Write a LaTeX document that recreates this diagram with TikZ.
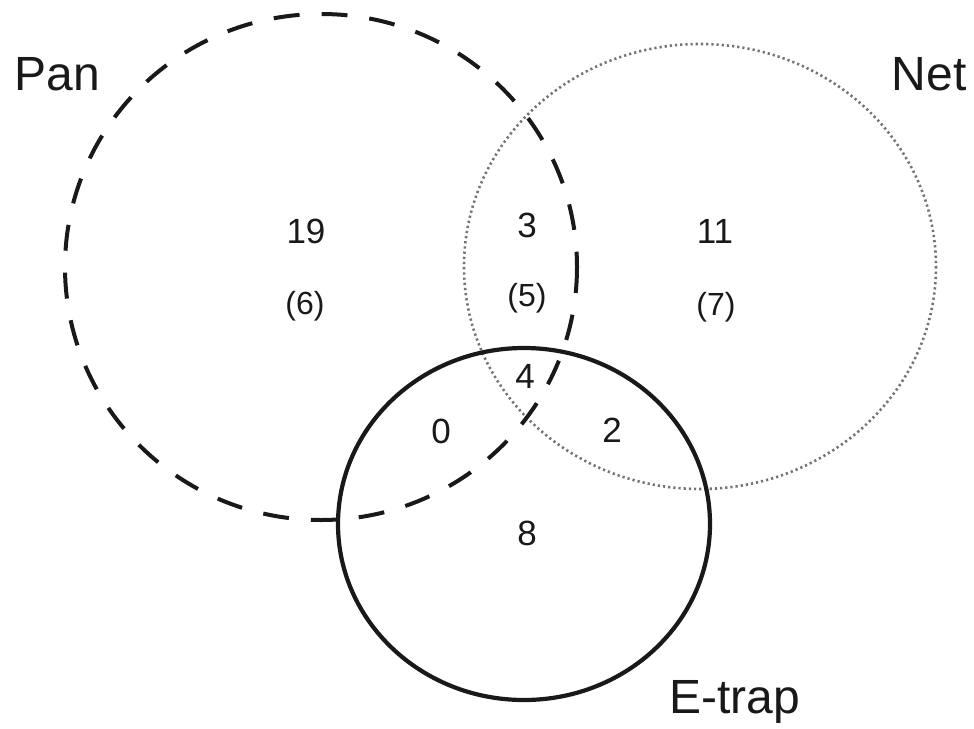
\documentclass[tikz,border=0pt]{standalone}
\usepackage{fontspec}
\setmainfont{Liberation Sans}
\begin{document}
\begin{tikzpicture}[x=1pt,y=-1pt,
  setlabel/.style={inner sep=0pt,anchor=base,font=\fontsize{48}{50}\selectfont,text=black!90},
  count/.style={inner sep=0pt,anchor=base,font=\fontsize{35}{38}\selectfont,text=black!90},
  paren/.style={inner sep=0pt,anchor=base,font=\fontsize{32}{34}\selectfont,text=black!90},
  panline/.style={line width=4pt,black!90,dash pattern=on 26pt off 22pt},
  netline/.style={line width=2.6pt,black!55,dash pattern=on 2.2pt off 3pt},
  trapline/.style={line width=4.2pt,black!90}]
\useasboundingbox[fill=white] (0,0) rectangle (974,728);
\draw[netline] (700,266.5) ellipse [x radius=236, y radius=222.5];
\draw[trapline] (524,524) ellipse [x radius=186, y radius=176];
\draw[panline] (321,267) ellipse [x radius=256, y radius=253];
\node[setlabel] (pan) at (57,90) {Pan};
\node[setlabel] (net) at (929,90) {Net};
\node[setlabel] (etrap) at (735,713) {E-trap};
\node[count] (n19) at (306,243) {19};
\node[paren] (p6) at (305,314) {(6)};
\node[count] (n3) at (527,237) {3};
\node[paren] (p5) at (527,306) {(5)};
\node[count] (n11) at (715,243) {11};
\node[paren] (p7) at (716,315) {(7)};
\node[count] (n4) at (525,388) {4};
\node[count] (n0) at (441,443) {0};
\node[count] (n2) at (612,442) {2};
\node[count] (n8) at (527,545) {8};
\end{tikzpicture}
\end{document}
